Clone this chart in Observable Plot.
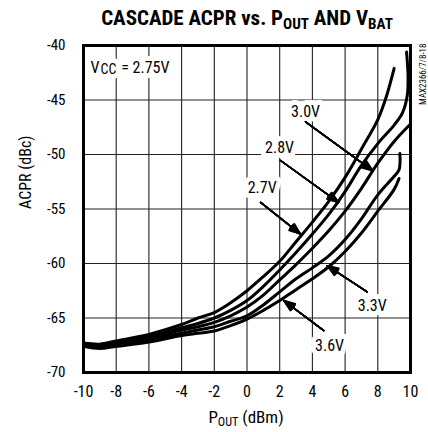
<!DOCTYPE html>
<html><head><meta charset="utf-8">
<script src="https://cdn.jsdelivr.net/npm/d3@7"></script>
<script src="https://cdn.jsdelivr.net/npm/@observablehq/plot@0.6"></script>
<style>
body{margin:0;background:#fff;}
#wrap{width:428px;height:432px;position:relative;overflow:hidden;font-family:'Liberation Sans Narrow','Roboto Condensed','DejaVu Sans Condensed',sans-serif;color:#000;background:#fff;}
#title{position:absolute;left:0;top:0;width:428px;height:32px;text-align:center;font-weight:bold;font-size:21px;line-height:36px;padding-left:66px;box-sizing:border-box;white-space:nowrap;}
.sub{font-size:0.72em;position:relative;top:0.28em;}
#xlabel{position:absolute;left:0;top:406px;width:428px;text-align:center;font-size:17px;line-height:22px;padding-left:64px;box-sizing:border-box;}
#chart{position:absolute;left:0;top:32px;}
</style></head>
<body>
<div id="wrap">
  <div id="title">CASCADE ACPR vs. P<span class="sub">OUT</span> AND V<span class="sub">BAT</span></div>
  <div id="chart"></div>
  <div id="xlabel">P<span class="sub">OUT</span> (dBm)</div>
</div>
<script>
const xTicks = [-10,-8,-6,-4,-2,0,2,4,6,8,10];
const yTicks = [-70,-65,-60,-55,-50,-45,-40];
const gridXs = [-8,-6,-4,-2,0,2,4,6,8];
const gridYs = [-65,-60,-55,-50,-45];

const v27x = [-10,-9,-8,-6,-4,-3,-2,-1,0,1,2,3,4,5,6,7,8,8.5,9];
const v27y = [-67.3,-67.4,-67.1,-66.5,-65.6,-65.0,-64.5,-63.6,-62.5,-61.2,-59.8,-58.0,-56.2,-54.3,-52.1,-49.5,-46.8,-44.8,-42.1];
const v28x = [-10,-9,-8,-6,-4,-3,-2,-1,0,1,2,3,4,5,6,7,8,9,9.5,9.8,9.85,9.76];
const v28y = [-67.3,-67.5,-67.2,-66.7,-65.9,-65.5,-65.0,-64.3,-63.4,-62.1,-60.6,-59.0,-57.3,-55.5,-53.4,-51.0,-49.0,-47.3,-46.2,-44.6,-42.8,-40.6];
const v30x = [-10,-9,-8,-6,-4,-3,-2,-1,0,1,2,3,4,5,6,7,8,9,10];
const v30y = [-67.4,-67.6,-67.3,-66.9,-66.1,-65.8,-65.4,-64.8,-64.0,-62.9,-61.5,-60.1,-58.6,-57.0,-55.2,-53.1,-50.8,-48.8,-47.2];
const v33x = [-10,-9,-8,-6,-4,-3,-2,-1,0,1,2,3,4,5,6,7,8,9,9.3,9.35];
const v33y = [-67.5,-67.7,-67.4,-67.0,-66.4,-66.1,-65.8,-65.3,-64.8,-63.8,-62.6,-61.4,-60.4,-59.3,-57.8,-55.9,-53.7,-52.0,-51.4,-49.9];
const v36x = [-10,-9,-8,-6,-4,-3,-2,-1,0,1,2,3,4,5,6,7,8,9,9.3];
const v36y = [-67.6,-67.8,-67.6,-67.2,-66.6,-66.4,-66.2,-65.7,-65.1,-64.3,-63.4,-62.4,-61.4,-60.3,-58.9,-57.2,-55.2,-53.2,-52.2];

const seriesNames = ["2.7V","2.8V","3.0V","3.3V","3.6V"];
const seriesX = [v27x, v28x, v30x, v33x, v36x];
const seriesY = [v27y, v28y, v30y, v33y, v36y];

const labelText = ["3.0V","2.8V","2.7V","3.3V","3.6V"];
const labelX = [3.58, 1.99, 0.93, 7.66, 5.05];
const labelY = [-46.05, -49.4, -53.1, -63.9, -67.6];
const arrowFromX = [3.58, 2.05, 0.83, 7.35, 4.7];
const arrowFromY = [-47.0, -50.55, -54.4, -62.6, -66.15];
const arrowToX = [7.7, 5.6, 3.27, 4.9, 2.25];
const arrowToY = [-51.5, -54.4, -57.3, -60.2, -63.4];

const rows = seriesNames.flatMap((name, k) => seriesX[k].map((x, i) => ({name, x, y: seriesY[k][i]})));
const labels = labelText.map((t, i) => ({t, x: labelX[i], y: labelY[i]}));
const arrows = labelText.map((t, i) => ({x1: arrowFromX[i], y1: arrowFromY[i], x2: arrowToX[i], y2: arrowToY[i]}));

const vccParts = [
  {t: "V", dx: 7, dy: 16, size: 16},
  {t: "CC", dx: 17, dy: 19, size: 14},
  {t: " = 2.75V", dx: 34, dy: 16, size: 16}
];

const font = "'Liberation Sans Narrow','Roboto Condensed','DejaVu Sans Condensed',sans-serif";
const headAngles = [6, 12, 18, 24, 30, 36, 42];

function vccMarks(halo) {
  return vccParts.map(p => Plot.text([p.t], {
    frameAnchor: "top-left", dx: p.dx, dy: p.dy, textAnchor: "start", fontSize: p.size,
    fill: halo ? "white" : "black", stroke: halo ? "white" : "none", strokeWidth: halo ? 10 : 0
  }));
}

const chart = Plot.plot({
  width: 428, height: 375,
  marginLeft: 83, marginRight: 18, marginTop: 13, marginBottom: 35,
  x: {domain: [-10, 10]},
  y: {domain: [-70, -40]},
  style: {fontFamily: font, fontSize: "14px", color: "black", background: "white"},
  marks: [
    Plot.ruleX(gridXs, {stroke: "#222", strokeWidth: 1.1}),
    Plot.ruleY(gridYs, {stroke: "#222", strokeWidth: 1.1}),
    Plot.text(labels, {x: "x", y: "y", text: "t", fontSize: 16, fill: "white", stroke: "white", strokeWidth: 10}),
    ...vccMarks(true),
    Plot.text(labels, {x: "x", y: "y", text: "t", fontSize: 16, fill: "black"}),
    ...vccMarks(false),
    Plot.line(rows, {x: "x", y: "y", z: "name", stroke: "black", strokeWidth: 3, curve: "catmull-rom"}),
    ...headAngles.map(a => Plot.arrow(arrows, {x1: "x1", y1: "y1", x2: "x2", y2: "y2", stroke: "black", strokeWidth: 1.5, headAngle: a, headLength: 12})),
    Plot.frame({stroke: "black", strokeWidth: 3}),
    Plot.axisX({ticks: xTicks, tickSize: 0, tickPadding: 13, fontSize: 16, tickFormat: d => String(d), label: null}),
    Plot.axisY({ticks: yTicks, tickSize: 0, tickPadding: 18, fontSize: 15, tickFormat: d => String(d), label: null}),
    Plot.text(["ACPR (dBc)"], {frameAnchor: "left", dx: -58, rotate: -90, fontSize: 16, fill: "black"}),
    Plot.text(["MAX2366/7/8-18"], {frameAnchor: "top-right", dx: 9, dy: -2, rotate: -90, textAnchor: "end", fontSize: 9, fill: "black"})
  ]
});
document.getElementById("chart").appendChild(chart);
</script>
</body></html>
